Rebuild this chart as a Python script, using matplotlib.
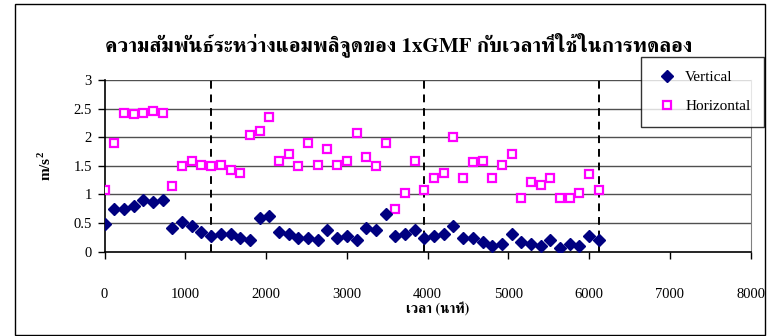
import matplotlib
matplotlib.use("Agg")
import matplotlib.pyplot as plt
from matplotlib import font_manager
from matplotlib.ft2font import FT2Font
from matplotlib.patches import Rectangle

# ---- data -------------------------------------------------------------
time_min = [i * 120 for i in range(52)]
vertical = [0.49, 0.74, 0.74, 0.80, 0.91, 0.87, 0.91, 0.42, 0.52, 0.45,
            0.35, 0.28, 0.31, 0.31, 0.24, 0.21, 0.59, 0.63, 0.35, 0.31,
            0.24, 0.24, 0.21, 0.38, 0.24, 0.28, 0.21, 0.42, 0.38, 0.66,
            0.28, 0.31, 0.38, 0.24, 0.28, 0.31, 0.45, 0.24, 0.24, 0.17,
            0.10, 0.14, 0.31, 0.17, 0.14, 0.10, 0.21, 0.07, 0.14, 0.10,
            0.28, 0.21]
horizontal = [1.07, 1.90, 2.43, 2.40, 2.43, 2.46, 2.43, 1.14, 1.49, 1.59,
              1.52, 1.49, 1.52, 1.42, 1.38, 2.04, 2.11, 2.36, 1.59, 1.70,
              1.49, 1.90, 1.52, 1.80, 1.52, 1.59, 2.08, 1.66, 1.49, 1.90,
              0.75, 1.03, 1.59, 1.07, 1.28, 1.38, 2.01, 1.28, 1.56, 1.59,
              1.28, 1.52, 1.70, 0.93, 1.21, 1.17, 1.28, 0.93, 0.93, 1.03,
              1.35, 1.07]
phase_marks = [1320, 3960, 6120]
x_ticks = [0, 1000, 2000, 3000, 4000, 5000, 6000, 7000, 8000]
y_ticks = [0, 0.5, 1, 1.5, 2, 2.5, 3]
y_tick_labels = ["0", "0.5", "1", "1.5", "2", "2.5", "3"]
series_names = ["Vertical", "Horizontal"]
title_text = "ความสัมพันธ์ระหว่างแอมพลิจูดของ 1xGMF กับเวลาที่ใช้ในการทดลอง"
x_label = "เวลา (นาที)"
y_label = r"m/s$^{\mathbf{2}}$"


# ---- fonts ------------------------------------------------------------
def find_thai_font():
    """Return a family name that can render Thai, serif faces preferred."""
    candidates = []
    for fe in font_manager.fontManager.ttflist:
        try:
            cmap = FT2Font(fe.fname).get_charmap()
        except Exception:
            continue
        if 0x0E04 in cmap and 0x0E21 in cmap:
            candidates.append(fe.name)
    if not candidates:
        return None
    serif_hints = ("Serif", "Norasi", "Kinnari", "Times", "Angsana", "Cordia")
    for name in candidates:
        if any(h in name for h in serif_hints):
            return name
    return candidates[0]


thai = find_thai_font()
serif = ["Liberation Serif", "DejaVu Serif"]
thai_family = ([thai] if thai else []) + serif + ["DejaVu Sans"]

plt.rcParams["font.family"] = serif
plt.rcParams["mathtext.fontset"] = "custom"
plt.rcParams["mathtext.rm"] = "Liberation Serif"
plt.rcParams["mathtext.bf"] = "Liberation Serif:bold"

# ---- figure -----------------------------------------------------------
W, H = 767, 336
fig = plt.figure(figsize=(W / 100, H / 100), dpi=100)
fig.patch.set_facecolor("white")

# outer frame
fig.add_artist(Rectangle((15 / W, 1 / H), 750 / W, 331 / H,
                         transform=fig.transFigure, fill=False,
                         edgecolor="black", linewidth=1.0))

ax = fig.add_axes([104.5 / W, (H - 251.7) / H, 646.2 / W, 171.7 / H])
ax.set_xlim(0, 8000)
ax.set_ylim(0, 3)

for y in y_ticks[1:]:
    ax.axhline(y, color="#505050", linewidth=1.0, zorder=1)
for xm in phase_marks:
    ax.axvline(xm, color="black", linestyle=(0, (4, 3)), linewidth=1.4,
               zorder=2)

ax.plot(time_min, vertical, linestyle="none", marker="D", markersize=6,
        color="#000080", label=series_names[0], zorder=4)
ax.plot(time_min, horizontal, linestyle="none", marker="s", markersize=5.5,
        markerfacecolor="white", markeredgecolor="#FF00FF",
        markeredgewidth=1.6, label=series_names[1], zorder=3)

ax.spines["top"].set_visible(False)
ax.spines["right"].set_color("#808080")
ax.spines["left"].set_linewidth(1.2)
ax.spines["bottom"].set_linewidth(1.2)

ax.set_xticks(x_ticks)
ax.set_xticklabels([str(v) for v in x_ticks])
ax.set_yticks(y_ticks)
ax.set_yticklabels(y_tick_labels)
ax.tick_params(axis="x", direction="out", length=5, width=1, pad=21,
               labelsize=10.5)
ax.tick_params(axis="y", direction="out", length=5, width=1, pad=4,
               labelsize=10.5)

ax.set_xlabel(x_label, family=thai_family, fontweight="bold", fontsize=10)
ax.xaxis.set_label_coords((438 - 104.5) / 646.2, -(309 - 251.7) / 171.7)
ax.xaxis.label.set_va("center")
ax.set_ylabel(y_label, fontweight="bold", fontsize=11, labelpad=14)

fig.text(399 / W, 1 - 45 / H, title_text, family=thai_family,
         fontweight="bold", fontsize=15, ha="center", va="center")

leg = fig.legend(loc="upper left", bbox_to_anchor=(641 / W, 1 - 57 / H),
                 bbox_transform=fig.transFigure, fontsize=11,
                 frameon=True, fancybox=False, edgecolor="black",
                 borderpad=0.9, labelspacing=1.0, handletextpad=0.4,
                 handlelength=1.6, borderaxespad=0)
leg.get_frame().set_linewidth(1.0)

fig.savefig("out.png", dpi=100)
